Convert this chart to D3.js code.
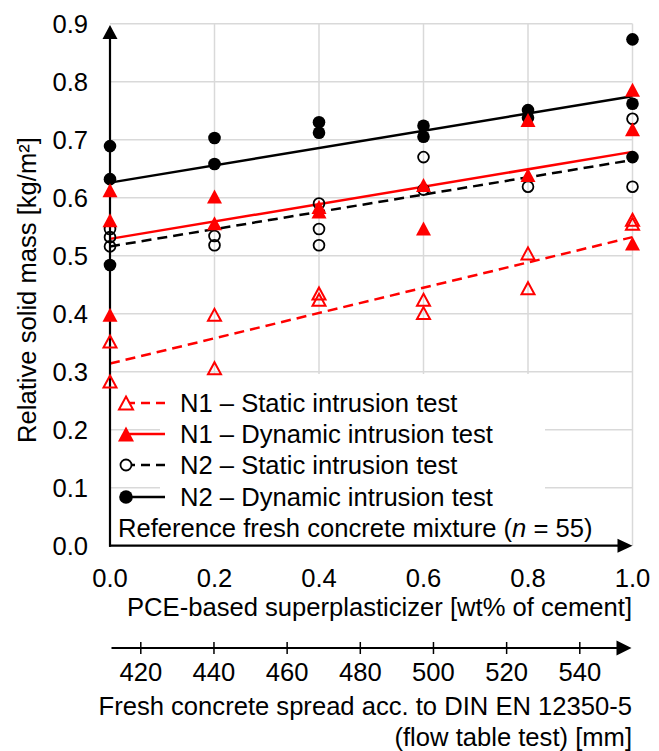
<!DOCTYPE html>
<html>
<head>
<meta charset="utf-8">
<script src="https://cdn.jsdelivr.net/npm/d3@7"></script>
<style>
  html, body { margin: 0; padding: 0; background: #fff; }
  svg { display: block; }
  text { font-family: "Liberation Sans", Arial, sans-serif; fill: #000; }
</style>
</head>
<body>
<script>
// ---------- data ----------
const yTicks = [0, 0.1, 0.2, 0.3, 0.4, 0.5, 0.6, 0.7, 0.8, 0.9];
const xTicks = [0, 0.2, 0.4, 0.6, 0.8, 1.0];
const spreadTicks = [420, 440, 460, 480, 500, 520, 540];

// N1 – static intrusion test (open red triangles)
const n1StaticX = [0, 0, 0.2, 0.2, 0.4, 0.4, 0.6, 0.6, 0.8, 0.8, 1.0, 1.0];
const n1StaticY = [0.352, 0.283, 0.398, 0.306, 0.435, 0.424, 0.424, 0.401, 0.504, 0.444, 0.562, 0.555];
// N1 – dynamic intrusion test (filled red triangles)
const n1DynX = [0, 0, 0, 0.2, 0.2, 0.4, 0.4, 0.6, 0.6, 0.8, 0.8, 1.0, 1.0, 1.0];
const n1DynY = [0.613, 0.561, 0.398, 0.602, 0.556, 0.584, 0.576, 0.622, 0.547, 0.734, 0.639, 0.786, 0.718, 0.521];
// N2 – static intrusion test (open black circles)
const n2StaticX = [0, 0, 0, 0.2, 0.2, 0.4, 0.4, 0.4, 0.6, 0.6, 0.8, 1.0, 1.0];
const n2StaticY = [0.546, 0.532, 0.516, 0.534, 0.518, 0.590, 0.546, 0.518, 0.670, 0.614, 0.619, 0.736, 0.619];
// N2 – dynamic intrusion test (filled black circles)
const n2DynX = [0, 0, 0, 0.2, 0.2, 0.4, 0.4, 0.6, 0.6, 0.8, 0.8, 1.0, 1.0, 1.0];
const n2DynY = [0.689, 0.632, 0.484, 0.703, 0.658, 0.730, 0.712, 0.724, 0.705, 0.751, 0.738, 0.873, 0.762, 0.670];

// linear trend lines: value at x = 0 and at x = 1.0
const trendN1Static = [0.314, 0.532];
const trendN1Dyn    = [0.529, 0.679];
const trendN2Static = [0.516, 0.665];
const trendN2Dyn    = [0.626, 0.775];

const legendLabels = [
  "N1 \u2013 Static intrusion test",
  "N1 \u2013 Dynamic intrusion test",
  "N2 \u2013 Static intrusion test",
  "N2 \u2013 Dynamic intrusion test"
];

// ---------- drawing ----------
const W = 659, H = 751;
const FS = 25.6;
const RED = "#ff0000";
const GRID = "#d9d9d9";

const svg = d3.select("body").append("svg").attr("width", W).attr("height", H);

const x = d3.scaleLinear().domain([0, 1]).range([110, 632.5]);
const y = d3.scaleLinear().domain([0, 0.9]).range([545.7, 23.7]);
const spread = d3.scaleLinear().domain([420, 540]).range([140.8, 579.8]);

// gridlines
const grid = svg.append("g");
grid.selectAll("line.h").data(yTicks.filter(d => d > 0)).join("line")
  .attr("x1", x(0)).attr("x2", x(1)).attr("y1", d => y(d)).attr("y2", d => y(d))
  .attr("stroke", GRID).attr("stroke-width", 1.5);
grid.selectAll("line.v").data(xTicks.filter(d => d > 0)).join("line")
  .attr("x1", d => x(d)).attr("x2", d => x(d)).attr("y1", y(0.9)).attr("y2", y(0))
  .attr("stroke", GRID).attr("stroke-width", 1.5);

// white legend background (hides gridlines behind legend text)
svg.append("rect").attr("x", 160).attr("y", 374).attr("width", 545 - 160).attr("height", y(0) - 374)
  .attr("fill", "#fff");

// trend lines
const trendDefs = [
  { t: trendN2Dyn, color: "#000", dash: null },
  { t: trendN2Static, color: "#000", dash: "10,6" },
  { t: trendN1Static, color: RED, dash: "10,6" },
  { t: trendN1Dyn, color: RED, dash: null }
];
trendDefs.forEach(d => {
  svg.append("line")
    .attr("x1", x(0)).attr("y1", y(d.t[0]))
    .attr("x2", x(1)).attr("y2", y(d.t[1]))
    .attr("stroke", d.color).attr("stroke-width", 2.5)
    .attr("stroke-dasharray", d.dash);
});

// marker helpers
function triPath(cx, cy, w, h) {
  return `M${cx},${cy - h / 2}L${cx + w / 2},${cy + h / 2}L${cx - w / 2},${cy + h / 2}Z`;
}
function drawFilledCircles(g, xs, ys) {
  g.selectAll(null).data(xs.map((d, i) => [d, ys[i]])).join("circle")
    .attr("cx", d => x(d[0])).attr("cy", d => y(d[1])).attr("r", 6.3).attr("fill", "#000");
}
function drawOpenCircles(g, xs, ys) {
  g.selectAll(null).data(xs.map((d, i) => [d, ys[i]])).join("circle")
    .attr("cx", d => x(d[0])).attr("cy", d => y(d[1])).attr("r", 5.4)
    .attr("fill", "none").attr("stroke", "#000").attr("stroke-width", 1.8);
}
function drawTriangles(g, xs, ys, filled) {
  g.selectAll(null).data(xs.map((d, i) => [d, ys[i]])).join("path")
    .attr("d", d => filled ? triPath(x(d[0]), y(d[1]), 15, 14) : triPath(x(d[0]), y(d[1]), 13, 12))
    .attr("fill", filled ? RED : "none")
    .attr("stroke", RED).attr("stroke-width", filled ? 0 : 2);
}

// axes (drawn below markers)
const axes = svg.append("g");
axes.append("line").attr("x1", x(0)).attr("x2", x(0)).attr("y1", y(0) + 1).attr("y2", 36)
  .attr("stroke", "#000").attr("stroke-width", 2.2);
axes.append("path").attr("d", `M${x(0)},25L${x(0) + 7.5},39L${x(0) - 7.5},39Z`).attr("fill", "#000");
axes.append("line").attr("x1", x(0) - 1).attr("x2", 620).attr("y1", y(0)).attr("y2", y(0))
  .attr("stroke", "#000").attr("stroke-width", 2.2);
axes.append("path").attr("d", `M${x(1)},${y(0)}L${x(1) - 15},${y(0) - 7}L${x(1) - 15},${y(0) + 7}Z`).attr("fill", "#000");

// markers
const mk = svg.append("g");
drawFilledCircles(mk.append("g"), n2DynX, n2DynY);
drawOpenCircles(mk.append("g"), n2StaticX, n2StaticY);
drawTriangles(mk.append("g"), n1StaticX, n1StaticY, false);
drawTriangles(mk.append("g"), n1DynX, n1DynY, true);

// y tick labels
svg.append("g").selectAll("text").data(yTicks).join("text")
  .attr("x", 88).attr("y", d => y(d)).attr("dy", "0.36em")
  .attr("text-anchor", "end").attr("font-size", FS)
  .text(d => d3.format(".1f")(d));

// y axis title
svg.append("text")
  .attr("transform", "translate(27,290) rotate(-90)")
  .attr("dy", "0.36em").attr("text-anchor", "middle").attr("font-size", FS)
  .text("Relative solid mass [kg/m\u00b2]");

// x tick labels
svg.append("g").selectAll("text").data(xTicks).join("text")
  .attr("x", d => x(d)).attr("y", 578).attr("dy", "0.36em")
  .attr("text-anchor", "middle").attr("font-size", FS)
  .text(d => d3.format(".1f")(d));

svg.append("text").attr("x", 632).attr("y", 607).attr("dy", "0.36em")
  .attr("text-anchor", "end").attr("font-size", FS)
  .text("PCE-based superplasticizer [wt% of cement]");

// secondary (spread) axis
const sAxisY = 648;
const sec = svg.append("g");
sec.append("line").attr("x1", x(0) + 1.5).attr("x2", 620).attr("y1", sAxisY).attr("y2", sAxisY)
  .attr("stroke", "#000").attr("stroke-width", 2.2);
sec.append("path").attr("d", `M${x(1) - 1},${sAxisY}L${x(1) - 16},${sAxisY - 7.5}L${x(1) - 16},${sAxisY + 7.5}Z`).attr("fill", "#000");
sec.selectAll("line.t").data(spreadTicks).join("line")
  .attr("x1", d => spread(d)).attr("x2", d => spread(d))
  .attr("y1", sAxisY - 6).attr("y2", sAxisY + 6)
  .attr("stroke", "#000").attr("stroke-width", 1.5);
sec.selectAll("text").data(spreadTicks).join("text")
  .attr("x", d => spread(d)).attr("y", 672).attr("dy", "0.36em")
  .attr("text-anchor", "middle").attr("font-size", FS)
  .text(d => d);

svg.append("text").attr("x", 632).attr("y", 706).attr("dy", "0.36em")
  .attr("text-anchor", "end").attr("font-size", FS)
  .text("Fresh concrete spread acc. to DIN EN 12350-5");
svg.append("text").attr("x", 632).attr("y", 737).attr("dy", "0.36em")
  .attr("text-anchor", "end").attr("font-size", FS)
  .text("(flow table test) [mm]");

// legend
const legY = [403, 434, 465, 497];
const lg = svg.append("g");
const legDefs = [
  { color: RED, dash: "9,6", marker: "otri" },
  { color: RED, dash: null, marker: "ftri" },
  { color: "#000", dash: "9,6", marker: "ocirc" },
  { color: "#000", dash: null, marker: "fcirc" }
];
legDefs.forEach((d, i) => {
  const cy = legY[i];
  lg.append("line").attr("x1", 126).attr("x2", 165).attr("y1", cy).attr("y2", cy)
    .attr("stroke", d.color).attr("stroke-width", 2.5).attr("stroke-dasharray", d.dash);
  if (d.marker === "otri") {
    lg.append("path").attr("d", triPath(126, cy, 14, 13))
      .attr("fill", "#fff").attr("stroke", RED).attr("stroke-width", 2);
  } else if (d.marker === "ftri") {
    lg.append("path").attr("d", triPath(126, cy, 16, 15)).attr("fill", RED);
  } else if (d.marker === "ocirc") {
    lg.append("circle").attr("cx", 126).attr("cy", cy).attr("r", 5.5)
      .attr("fill", "#fff").attr("stroke", "#000").attr("stroke-width", 1.8);
  } else {
    lg.append("circle").attr("cx", 126).attr("cy", cy).attr("r", 6.8).attr("fill", "#000");
  }
  lg.append("text").attr("x", 180).attr("y", cy).attr("dy", "0.36em")
    .attr("font-size", FS).text(legendLabels[i]);
});

const ref = lg.append("text").attr("x", 118).attr("y", 528).attr("dy", "0.36em").attr("font-size", FS);
ref.append("tspan").text("Reference fresh concrete mixture (");
ref.append("tspan").attr("font-style", "italic").text("n");
ref.append("tspan").text(" = 55)");
</script>
</body>
</html>
